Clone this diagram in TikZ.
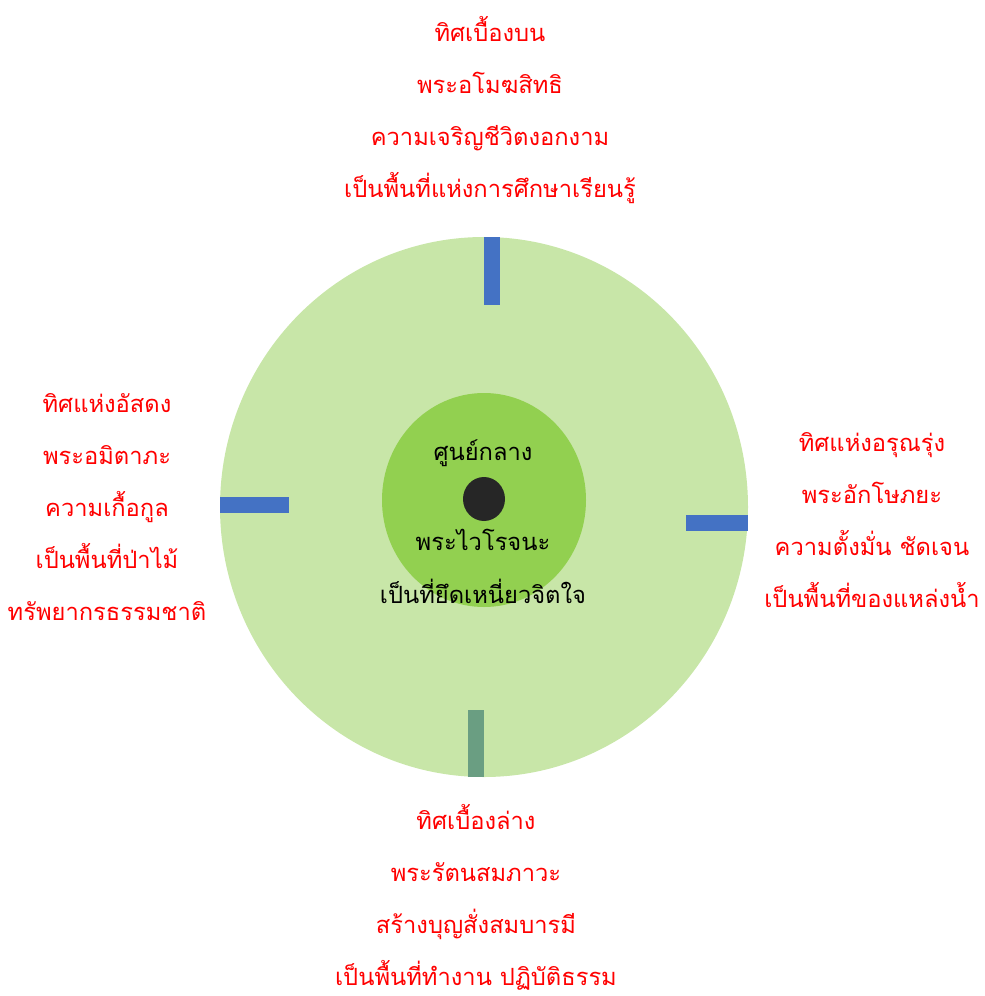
\documentclass[tikz,border=0pt]{standalone}
\usepackage{fontspec}
\newfontfamily\thaifont[Script=Thai]{Loma}
\definecolor{ringgreen}{HTML}{C8E6A8}
\definecolor{coregreen}{HTML}{92D050}
\definecolor{markblue}{HTML}{4472C4}
\definecolor{marksage}{HTML}{6A9E82}
\definecolor{dotgray}{HTML}{262626}
\tikzset{
  dirtext/.style={text=red, align=center, inner sep=0pt,
    font=\thaifont\fontsize{23.7}{52}\selectfont},
  coretext/.style={text=black, align=center, inner sep=0pt,
    font=\thaifont\fontsize{23.7}{52}\selectfont},
}

\begin{document}
\begin{tikzpicture}[x=1pt,y=-1pt]
  \useasboundingbox (0,0) rectangle (985,996);
  % Circles
  \fill[ringgreen] (484,507) ellipse [x radius=264, y radius=270];
  \fill[coregreen] (484,500) ellipse [x radius=102, y radius=107];
  \fill[dotgray] (484,499) ellipse [x radius=21, y radius=22];
  % Marks
  \fill[markblue] (484,237) rectangle (500,305);
  \fill[markblue] (220,497) rectangle (289,513);
  \fill[markblue] (686,515) rectangle (748,531);
  \fill[marksage] (468,710) rectangle (484,777);
  % Centre
  \node (centre) [coretext] at (483,453) {ศูนย์กลาง};
  \node (buddha) [coretext] at (483,540) {พระไวโรจนะ};
  \node (mind) [coretext] at (483,591) {เป็นที่ยึดเหนี่ยวจิตใจ};
  % Directions
  \node (north) [dirtext] at (490,110) {ทิศเบื้องบน\\พระอโมฆสิทธิ\\ความเจริญชีวิตงอกงาม\\เป็นพื้นที่แห่งการศึกษาเรียนรู้};
  \node (west) [dirtext] at (107,507) {ทิศแห่งอัสดง\\พระอมิตาภะ\\ความเกื้อกูล\\เป็นพื้นที่ป่าไม้\\ทรัพยากรธรรมชาติ};
  \node (east) [dirtext] at (872,520) {ทิศแห่งอรุณรุ่ง\\พระอักโษภยะ\\ความตั้งมั่น ชัดเจน\\เป็นพื้นที่ของแหล่งน้ำ};
  \node (south) [dirtext] at (476,897) {ทิศเบื้องล่าง\\พระรัตนสมภาวะ\\สร้างบุญสั่งสมบารมี\\เป็นพื้นที่ทำงาน ปฏิบัติธรรม};
\end{tikzpicture}
\end{document}
